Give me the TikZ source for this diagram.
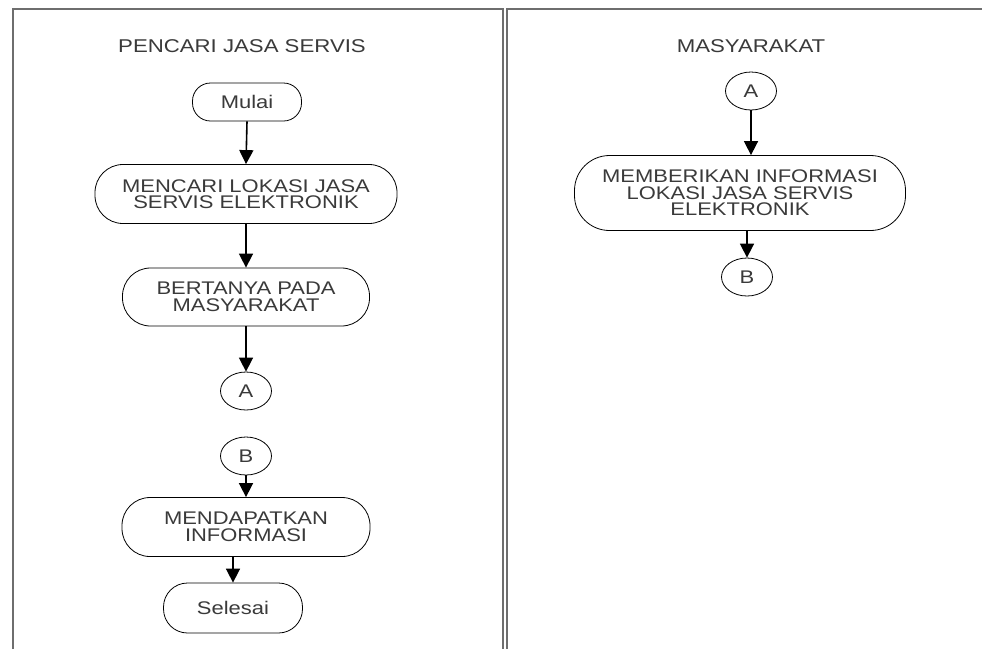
\documentclass[tikz,border=0pt]{standalone}
\usepackage{fontspec}
\setmainfont{Liberation Sans}
\newfontfamily\wideface[FakeStretch=1.2]{Liberation Sans}
\usetikzlibrary{arrows.meta,shapes.geometric}
\definecolor{lane}{HTML}{6E6E6E}
\definecolor{ink}{HTML}{3A3A3A}
\begin{document}
\begin{tikzpicture}[x=1pt,y=-1pt,
  lanebox/.style={draw=lane,line width=2pt},
  boxtext/.style={font=\wideface\fontsize{18.3}{16.5}\selectfont,text=ink},
  proc/.style={boxtext,draw=black,line width=0.8pt,rounded corners=28pt,align=center,inner sep=0pt},
  term/.style={boxtext,draw=black,line width=0.8pt,rounded corners=18pt,align=center,inner sep=0pt},
  conn/.style={boxtext,draw=black,line width=0.8pt,ellipse,inner sep=0pt,
    minimum width=51pt,minimum height=38pt},
  flow/.style={draw=black,line width=1.6pt,-{Triangle[width=14pt,length=14pt]}},
  title/.style={font=\wideface\fontsize{18.5}{20}\selectfont,text=ink}]
\useasboundingbox (0,0) rectangle (982,649);
\fill[white] (0,0) rectangle (982,649);
% swimlanes
\draw[lanebox] (13,649) -- (13,9) -- (503,9) -- (503,649);
\draw[lanebox] (507,649) -- (507,9) -- (985,9);
\node[title] (t1) at (242,46) {PENCARI JASA SERVIS};
\node[title] (t2) at (751,46) {MASYARAKAT};
% left lane
\node[term,minimum width=109pt,minimum height=38pt] (mulai) at (247,102) {Mulai};
\node[proc,minimum width=302pt,minimum height=59pt] (cari) at (246,194) {MENCARI LOKASI JASA\\SERVIS ELEKTRONIK};
\node[proc,minimum width=247pt,minimum height=58pt] (tanya) at (246,297) {BERTANYA PADA\\MASYARAKAT};
\node[conn] (a1) at (246,391) {A};
\node[conn] (b1) at (246,456) {B};
\node[proc,minimum width=248pt,minimum height=59pt] (dapat) at (246,527) {MENDAPATKAN\\INFORMASI};
\node[term,rounded corners=24pt,minimum width=139pt,minimum height=50pt] (selesai) at (233,608) {Selesai};
% right lane
\node[conn] (a2) at (751,91) {A};
\node[proc,rounded corners=35pt,minimum width=331pt,minimum height=75pt] (beri) at (740,193) {MEMBERIKAN INFORMASI\\LOKASI JASA SERVIS\\ELEKTRONIK};
\node[conn] (b2) at (747,277) {B};
% connectors
\draw[flow] (mulai.south) -- (cari.north);
\draw[flow] (cari.south) -- (tanya.north);
\draw[flow] (tanya.south) -- (a1.north);
\draw[flow] (b1.south) -- (b1.south |- dapat.north);
\draw[flow] (dapat.south -| selesai.north) -- (selesai.north);
\draw[flow] (a2.south) -- (a2.south |- beri.north);
\draw[flow] (b2.north |- beri.south) -- (b2.north);
\end{tikzpicture}
\end{document}
